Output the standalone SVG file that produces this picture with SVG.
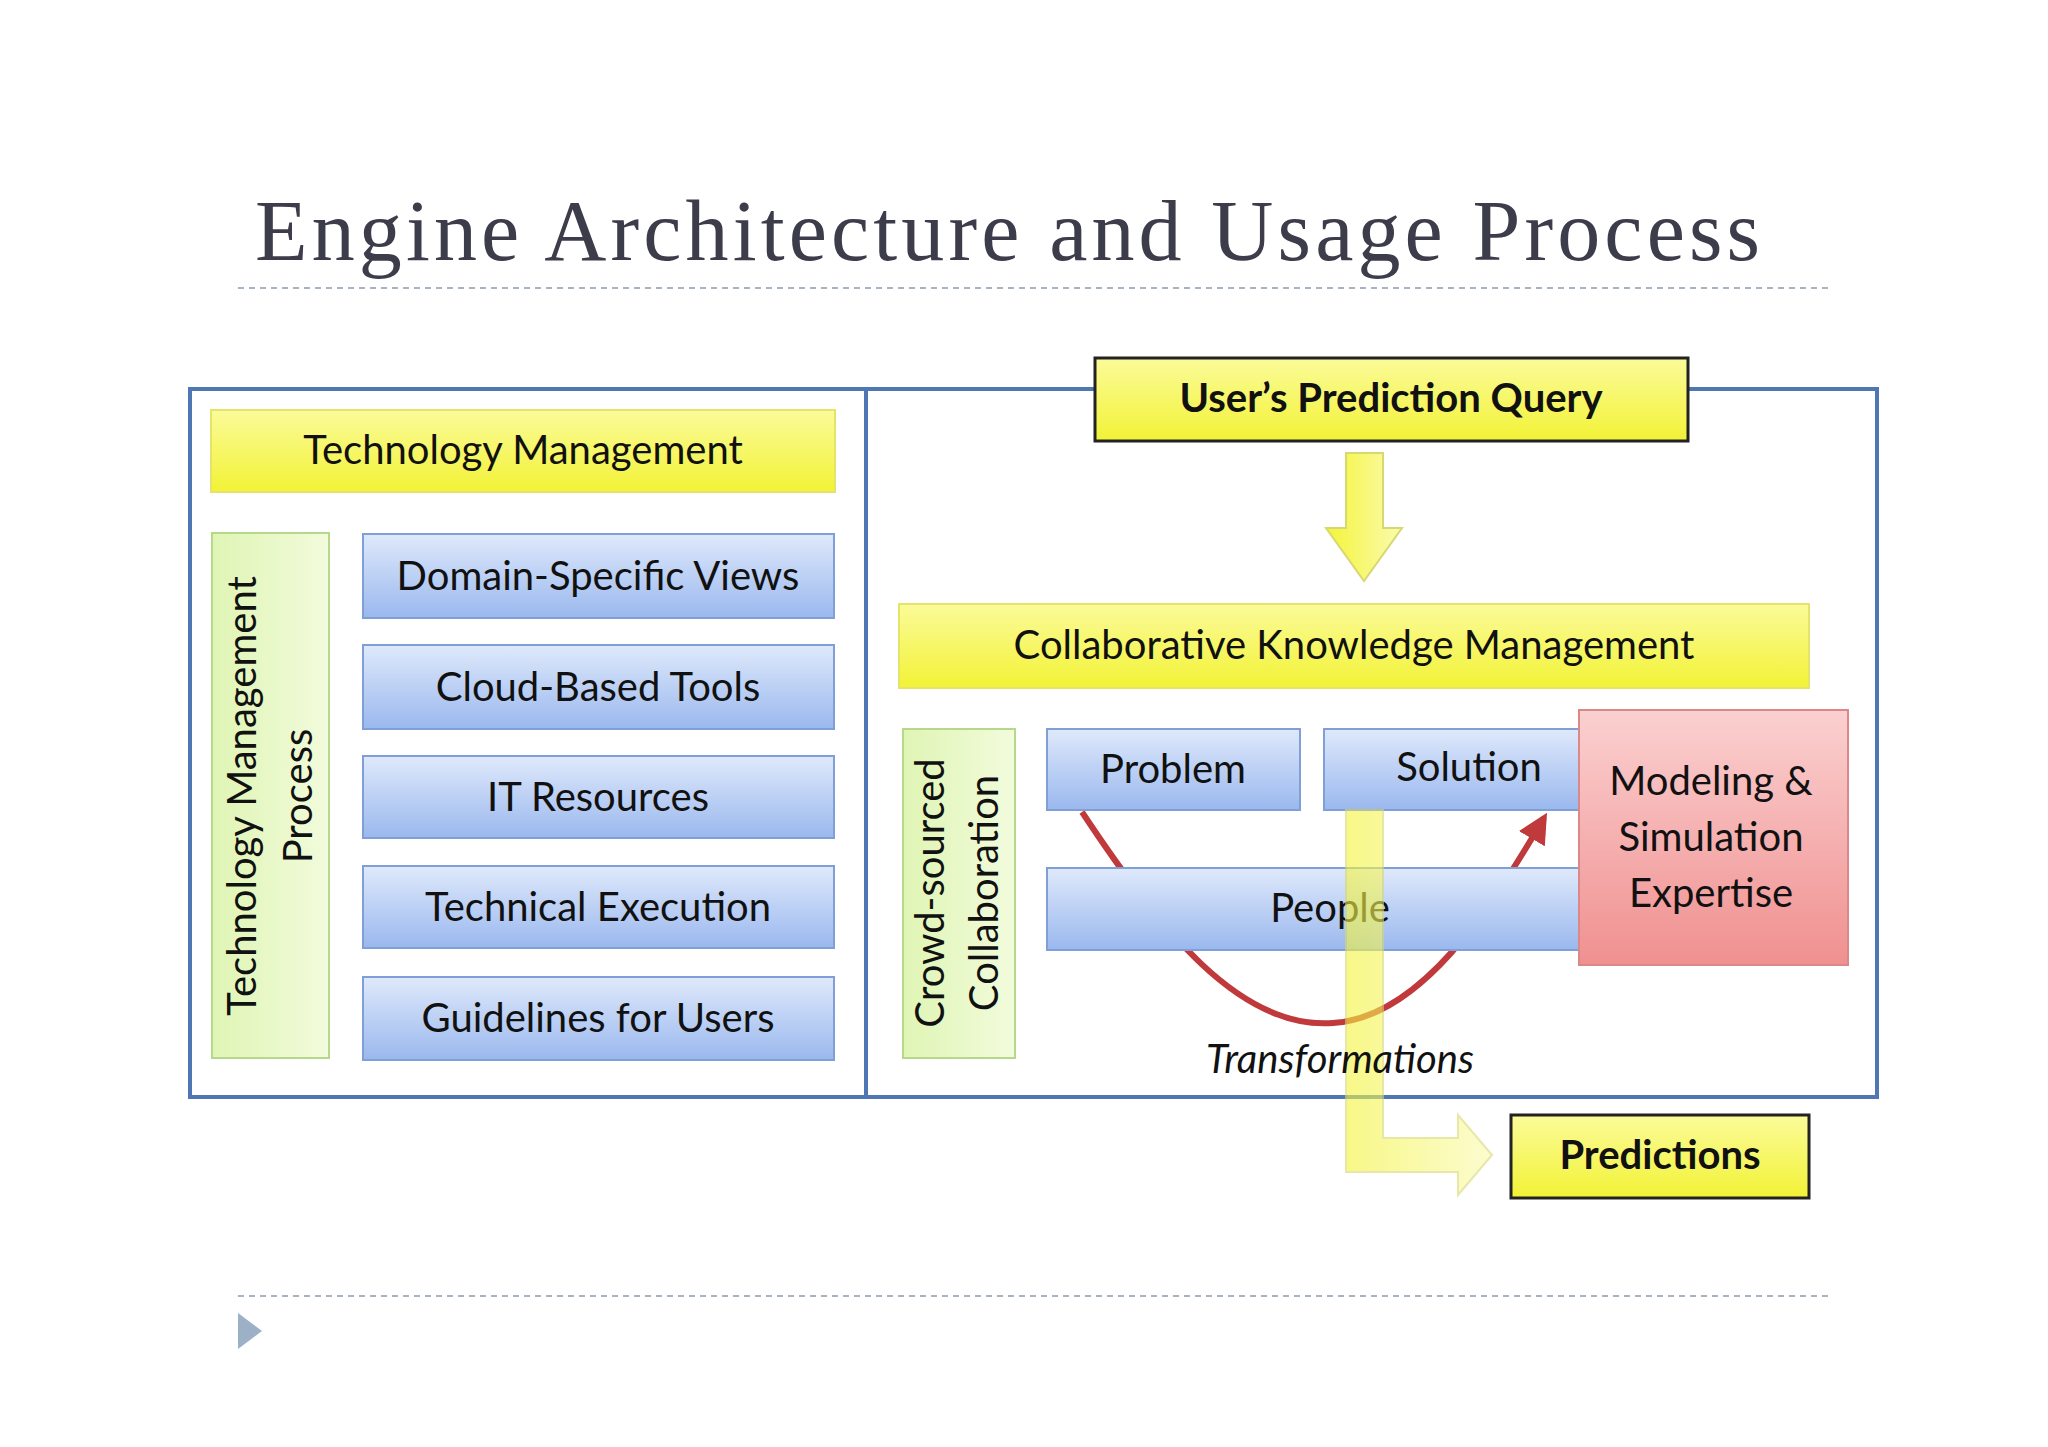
<svg xmlns="http://www.w3.org/2000/svg" width="2048" height="1447" viewBox="0 0 2048 1447">
<defs>
<linearGradient id="gb" x1="0" y1="0" x2="0" y2="1"><stop offset="0" stop-color="#dfe9fb"/><stop offset="1" stop-color="#9ab8ee"/></linearGradient>
<linearGradient id="gy" x1="0" y1="0" x2="0" y2="1"><stop offset="0" stop-color="#fbfb9a"/><stop offset="1" stop-color="#f2f236"/></linearGradient>
<linearGradient id="gg" x1="0" y1="0" x2="1" y2="0"><stop offset="0" stop-color="#dff5b4"/><stop offset="1" stop-color="#f2fbdc"/></linearGradient>
<linearGradient id="gr" x1="0" y1="0" x2="0" y2="1"><stop offset="0" stop-color="#fbd0d0"/><stop offset="1" stop-color="#f09090"/></linearGradient>
<linearGradient id="ga" x1="0" y1="0" x2="1" y2="0"><stop offset="0" stop-color="#f4f43a"/><stop offset="1" stop-color="#fbfbb0"/></linearGradient>
<marker id="ra" viewBox="0 0 10 10" refX="8" refY="5" markerWidth="5" markerHeight="5" orient="auto"><path d="M0,0L10,5L0,10z" fill="#c0393b"/></marker>
<style>
.t{font-family:Lato,"Open Sans",sans-serif;font-size:40px;fill:#111;text-anchor:middle}
.b{font-weight:bold}
.blue{fill:url(#gb);stroke:#7f9fd6;stroke-width:2}
.yel{fill:url(#gy);stroke:#e4e46a;stroke-width:2}
.grn{fill:url(#gg);stroke:#b5d88a;stroke-width:2}
.dash{stroke:#a8b4c4;stroke-width:2;stroke-dasharray:6 5}
</style>
</defs>
<rect width="2048" height="1447" fill="#fff"/>
<text x="255" y="260" font-family="Liberation Serif,serif" font-size="86" fill="#3c3c4a" textLength="1505">Engine Architecture and Usage Process</text>
<line class="dash" x1="238" y1="288" x2="1832" y2="288"/>
<line class="dash" x1="238" y1="1296" x2="1832" y2="1296"/>
<path d="M238,1313L262,1331L238,1349z" fill="#9cb0c8"/>
<g id="frame"><rect x="190" y="389" width="1687" height="708" fill="none" stroke="#4f77b4" stroke-width="4"/><line x1="866" y1="389" x2="866" y2="1097" stroke="#4f77b4" stroke-width="4"/></g>
<g id="techmgmt"><rect class="yel" x="211" y="410" width="624" height="82"/><text class="t" x="523" y="464">Technology Management</text></g>
<g id="tmp"><rect class="grn" x="212" y="533" width="117" height="525"/><text class="t" transform="translate(256,796) rotate(-90)">Technology Management</text><text class="t" transform="translate(312,796) rotate(-90)">Process</text></g>
<g id="dsv"><rect class="blue" x="363" y="534" width="471" height="84"/><text class="t" x="598" y="590">Domain-Specific Views</text></g>
<g id="cbt"><rect class="blue" x="363" y="645" width="471" height="84"/><text class="t" x="598" y="701">Cloud-Based Tools</text></g>
<g id="itr"><rect class="blue" x="363" y="756" width="471" height="82"/><text class="t" x="598" y="811">IT Resources</text></g>
<g id="te"><rect class="blue" x="363" y="866" width="471" height="82"/><text class="t" x="598" y="921">Technical Execution</text></g>
<g id="gfu"><rect class="blue" x="363" y="977" width="471" height="83"/><text class="t" x="598" y="1032">Guidelines for Users</text></g>
<g id="query"><rect x="1095" y="358" width="593" height="83" fill="url(#gy)" stroke="#222" stroke-width="3"/><text class="t b" x="1391" y="412">User’s Prediction Query</text></g>
<g id="connectors">
<path d="M1346,453H1383V528H1402L1364,581L1326,528H1346z" fill="url(#ga)" stroke="#d8d870" stroke-width="2"/>
<path d="M1082,812C1160,930 1240,1030 1333,1023C1420,1018 1490,910 1544,818" fill="none" stroke="#c0393b" stroke-width="6" marker-end="url(#ra)"/>
</g>
<g id="ckm"><rect class="yel" x="899" y="604" width="910" height="84"/><text class="t" x="1354" y="659">Collaborative Knowledge Management</text></g>
<g id="crowd"><rect class="grn" x="903" y="729" width="112" height="329"/><text class="t" transform="translate(944,893) rotate(-90)">Crowd-sourced</text><text class="t" transform="translate(998,893) rotate(-90)">Collaboration</text></g>
<g id="problem"><rect class="blue" x="1047" y="729" width="253" height="81"/><text class="t" x="1173" y="783">Problem</text></g>
<g id="solution"><rect class="blue" x="1324" y="729" width="256" height="81"/><text class="t" x="1469" y="781">Solution</text></g>
<g id="people"><rect class="blue" x="1047" y="868" width="533" height="82"/><text class="t" x="1330" y="922">People</text></g>
<g id="arrow2"><path d="M1346,810H1383V1138H1458V1115L1492,1155L1458,1195V1172H1346z" fill="url(#ga)" stroke="#d8d870" stroke-width="2" opacity="0.6"/></g>
<g id="modeling"><rect x="1579" y="710" width="269" height="255" fill="url(#gr)" stroke="#d88" stroke-width="2"/><text class="t" x="1711" y="795">Modeling &amp;</text><text class="t" x="1711" y="851">Simulation</text><text class="t" x="1711" y="907">Expertise</text></g>
<text class="t" x="1340" y="1073" font-style="italic">Transformations</text>
<g id="predictions"><rect x="1511" y="1115" width="298" height="83" fill="url(#gy)" stroke="#222" stroke-width="3"/><text class="t b" x="1660" y="1169">Predictions</text></g>
</svg>
